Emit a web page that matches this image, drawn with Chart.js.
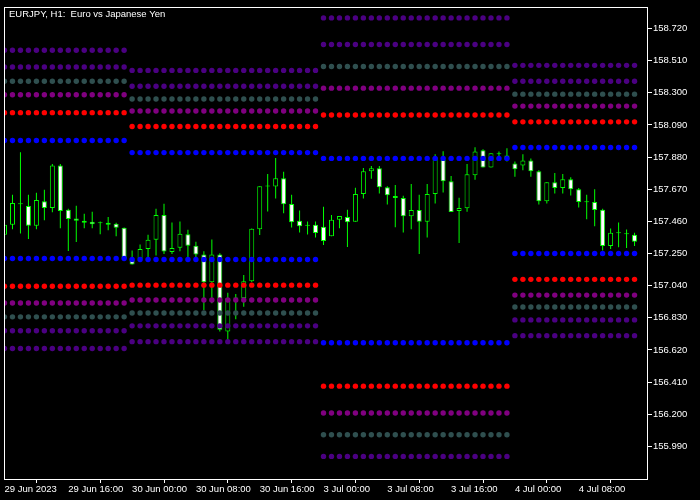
<!DOCTYPE html>
<html>
<head>
<meta charset="utf-8">
<script src="https://cdn.jsdelivr.net/npm/chart.js@4.4.0/dist/chart.umd.min.js"></script>
<style>
  html, body { margin: 0; padding: 0; background: #000; }
  canvas { display: block; background: #000; }
</style>
</head>
<body>
<canvas id="chart" width="700" height="500"></canvas>
<script>
var title = 'EURJPY, H1:  Euro vs Japanese Yen';

// H1 bars, 29 Jun 2023 08:00 .. 4 Jul 2023 15:00
var opens = [
  157.373, 157.437, 157.572, 157.560, 157.431, 157.592, 157.547, 157.825, 157.536, 157.478,
  157.463, 157.457, 157.448, 157.450, 157.444, 157.418, 157.206, 157.215, 157.279, 157.340,
  157.502, 157.260, 157.288, 157.376, 157.301, 157.243, 157.062, 157.243, 156.740, 156.956,
  156.958, 157.068, 157.409, 157.688, 157.687, 157.741, 157.573, 157.463, 157.431, 157.437,
  157.424, 157.363, 157.470, 157.489, 157.457, 157.638, 157.787, 157.806, 157.683, 157.625,
  157.612, 157.493, 157.534, 157.457, 157.638, 157.860, 157.722, 157.528, 157.545, 157.761,
  157.924, 157.812, 157.899, 157.890, 157.838, 157.825, 157.858, 157.787, 157.592, 157.715,
  157.677, 157.735, 157.670, 157.585, 157.586, 157.536, 157.299, 157.382, 157.375, 157.373
];
var highs = [
  157.437, 157.633, 157.911, 157.633, 157.646, 157.666, 157.834, 157.834, 157.543, 157.562,
  157.510, 157.523, 157.459, 157.489, 157.450, 157.420, 157.269, 157.308, 157.373, 157.543,
  157.575, 157.452, 157.459, 157.405, 157.327, 157.264, 157.342, 157.252, 156.993, 156.986,
  157.109, 157.413, 157.690, 157.769, 157.873, 157.784, 157.633, 157.530, 157.459, 157.459,
  157.556, 157.502, 157.495, 157.536, 157.679, 157.808, 157.821, 157.821, 157.690, 157.698,
  157.627, 157.704, 157.633, 157.704, 157.898, 157.918, 157.756, 157.614, 157.834, 157.944,
  157.931, 157.905, 157.916, 157.937, 157.851, 157.898, 157.871, 157.793, 157.715, 157.776,
  157.769, 157.748, 157.677, 157.633, 157.670, 157.543, 157.413, 157.452, 157.407, 157.385
];
var lows = [
  157.373, 157.409, 157.381, 157.344, 157.409, 157.467, 157.519, 157.415, 157.266, 157.325,
  157.415, 157.415, 157.376, 157.402, 157.363, 157.206, 157.178, 157.215, 157.215, 157.237,
  157.247, 157.247, 157.264, 157.226, 157.226, 156.881, 156.924, 156.740, 156.687, 156.820,
  156.902, 157.064, 157.370, 157.525, 157.609, 157.512, 157.420, 157.387, 157.374, 157.355,
  157.305, 157.363, 157.415, 157.292, 157.457, 157.609, 157.739, 157.642, 157.570, 157.422,
  157.387, 157.409, 157.247, 157.355, 157.577, 157.648, 157.521, 157.318, 157.523, 157.732,
  157.812, 157.812, 157.884, 157.851, 157.752, 157.793, 157.752, 157.570, 157.577, 157.642,
  157.642, 157.629, 157.551, 157.473, 157.428, 157.269, 157.279, 157.290, 157.286, 157.299
];
var closes = [
  157.437, 157.580, 157.578, 157.431, 157.599, 157.547, 157.825, 157.528, 157.476, 157.463,
  157.450, 157.441, 157.450, 157.437, 157.418, 157.217, 157.178, 157.279, 157.340, 157.502,
  157.263, 157.286, 157.379, 157.301, 157.243, 157.062, 157.243, 156.751, 156.958, 156.960,
  157.068, 157.411, 157.690, 157.690, 157.741, 157.571, 157.454, 157.428, 157.433, 157.383,
  157.331, 157.470, 157.495, 157.454, 157.638, 157.787, 157.806, 157.683, 157.631, 157.612,
  157.493, 157.534, 157.457, 157.638, 157.879, 157.722, 157.521, 157.547, 157.767, 157.916,
  157.812, 157.905, 157.900, 157.862, 157.800, 157.858, 157.787, 157.592, 157.715, 157.677,
  157.735, 157.670, 157.586, 157.586, 157.534, 157.299, 157.385, 157.383, 157.377, 157.327
];

var xTickBars = [0, 8, 16, 24, 32, 40, 48, 56, 64, 72];
var xTickLabels = ['29 Jun 2023', '29 Jun 16:00', '30 Jun 00:00', '30 Jun 08:00', '30 Jun 16:00',
                   '3 Jul 00:00', '3 Jul 08:00', '3 Jul 16:00', '4 Jul 00:00', '4 Jul 08:00'];
var yTicks = [155.990, 156.200, 156.410, 156.620, 156.830, 157.040, 157.250,
              157.460, 157.670, 157.880, 158.090, 158.300, 158.510, 158.720];

// daily levels, top to bottom; each day covers bars first..last
var dayFirstBar = [0, 16, 40, 64];
var dayLastBar = [15, 39, 63, 79];
var levelsJun29 = [158.578, 158.468, 158.375, 158.287, 158.170, 157.988, 157.217, 157.036, 156.926, 156.836, 156.745, 156.629];
var levelsJun30 = [158.446, 158.343, 158.259, 158.181, 158.080, 157.909, 157.211, 157.043, 156.946, 156.861, 156.777, 156.674];
var levelsJul3 = [158.789, 158.615, 158.472, 158.330, 158.155, 157.871, 156.667, 156.383, 156.208, 156.066, 155.924, null];
var levelsJul4 = [158.479, 158.375, 158.291, 158.213, 158.110, 157.942, 157.250, 157.081, 156.978, 156.900, 156.816, 156.713];
var levelColors = ['#4b0082', '#4b0082', '#2f4f4f', '#800080', '#ff0000', '#0000ff',
                   '#0000ff', '#ff0000', '#800080', '#2f4f4f', '#4b0082', '#4b0082'];

var FONT = {family: 'Liberation Sans', size: 9.5};

var wicks = [], bodies = [], bodyFill = [];
for (var i = 0; i < opens.length; i++) {
  wicks.push({x: i, y: [lows[i], highs[i]]});
  bodies.push({x: i, y: [opens[i], closes[i]]});
  bodyFill.push(closes[i] < opens[i] ? '#ffffff' : '#000000');
}

var days = [levelsJun29, levelsJun30, levelsJul3, levelsJul4];
var levelSets = [];
for (var l = 0; l < levelColors.length; l++) {
  var pts = [];
  for (var d = 0; d < days.length; d++) {
    if (days[d][l] == null) continue;
    for (var b = dayFirstBar[d]; b <= dayLastBar[d]; b++) {
      pts.push({x: b, y: days[d][l]});
    }
  }
  levelSets.push({
    type: 'line',
    data: pts,
    showLine: false,
    pointRadius: 2.7,
    pointBorderWidth: 0,
    pointBackgroundColor: levelColors[l],
    clip: 0,
    order: 0
  });
}

var framePlugin = {
  id: 'frame',
  afterDraw: function(chart) {
    var ctx = chart.ctx, a = chart.chartArea;
    ctx.save();
    ctx.strokeStyle = '#ffffff';
    ctx.lineWidth = 1;
    ctx.strokeRect(Math.round(a.left) + 0.5, Math.round(a.top) + 0.5,
                   Math.round(a.right - a.left) - 1, Math.round(a.bottom - a.top));
    ctx.fillStyle = '#ffffff';
    ctx.font = FONT.size + 'px ' + FONT.family;
    ctx.textBaseline = 'middle';
    ctx.fillText(title, a.left + 5, a.top + 8);
    ctx.restore();
  }
};

new Chart(document.getElementById('chart'), {
  type: 'bar',
  data: {
    datasets: levelSets.concat([
      {
        data: bodies,
        grouped: false,
        barThickness: 5,
        minBarLength: 1,
        backgroundColor: bodyFill,
        borderColor: '#00ff00',
        borderWidth: 1,
        borderSkipped: false,
        inflateAmount: 0,
        order: 1
      },
      {
        data: wicks,
        grouped: false,
        barThickness: 1,
        backgroundColor: '#00ff00',
        borderWidth: 0,
        inflateAmount: 0,
        order: 2
      }
    ])
  },
  options: {
    responsive: false,
    animation: false,
    events: [],
    layout: {padding: {left: 2, top: 2, right: 0, bottom: 0}},
    plugins: {legend: {display: false}, tooltip: {enabled: false}},
    scales: {
      x: {
        type: 'linear',
        min: -0.0625,
        max: 80.6875,
        offset: false,
        border: {display: false},
        grid: {drawOnChartArea: false, drawTicks: true, tickLength: 4, color: '#ffffff'},
        ticks: {
          color: '#ffffff',
          font: FONT,
          align: 'start',
          padding: 1,
          autoSkip: false,
          maxRotation: 0,
          callback: function(v, idx) { return xTickLabels[idx]; }
        },
        afterBuildTicks: function(scale) {
          scale.ticks = xTickBars.map(function(v) { return {value: v}; });
        },
        afterFit: function(scale) { scale.height = 21; }
      },
      y: {
        position: 'right',
        min: 155.7765,
        max: 158.8623,
        beginAtZero: false,
        border: {display: false},
        grid: {drawOnChartArea: false, drawTicks: true, tickLength: 4, color: '#ffffff'},
        ticks: {
          color: '#ffffff',
          font: FONT,
          padding: 1,
          autoSkip: false,
          callback: function(v) { return v.toFixed(3); }
        },
        afterBuildTicks: function(scale) {
          scale.ticks = yTicks.map(function(v) { return {value: v}; });
        },
        afterFit: function(scale) { scale.width = 52; }
      }
    }
  },
  plugins: [framePlugin]
});
</script>
</body>
</html>
